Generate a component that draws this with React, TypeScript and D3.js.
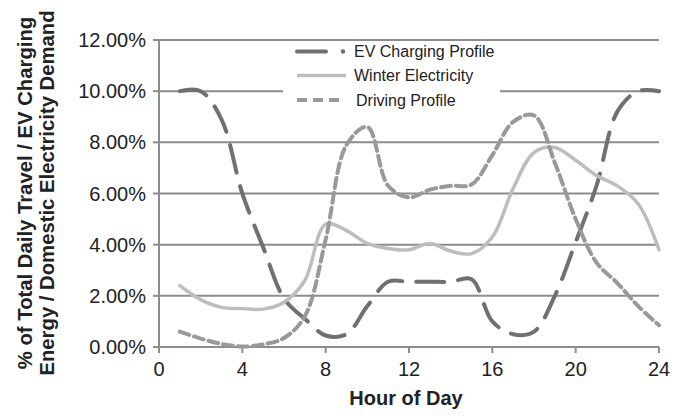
import React from "react";
import * as d3 from "d3";

const hours = [1, 2, 3, 4, 5, 6, 7, 8, 9, 10, 11, 12, 13, 14, 15, 16, 17, 18, 19, 20, 21, 22, 23, 24];
const evCharging = [10.0, 10.0, 8.9, 6.0, 3.9, 1.9, 1.1, 0.45, 0.5, 1.6, 2.55, 2.55, 2.55, 2.55, 2.65, 1.0, 0.5, 0.6, 2.0, 4.1, 6.3, 9.2, 10.0, 10.0];
const winterElec = [2.4, 1.85, 1.55, 1.5, 1.48, 1.75, 2.6, 4.8, 4.55, 4.05, 3.85, 3.8, 4.05, 3.75, 3.65, 4.3, 6.2, 7.6, 7.8, 7.3, 6.7, 6.3, 5.6, 3.8];
const drivingProfile = [0.6, 0.33, 0.12, 0.02, 0.1, 0.35, 1.2, 4.2, 7.9, 8.6, 6.3, 5.85, 6.15, 6.3, 6.35, 7.5, 8.8, 9.05, 7.2, 5.0, 3.3, 2.5, 1.6, 0.85];
const xTicks = [0, 4, 8, 12, 16, 20, 24];
const yTicks = [0, 2, 4, 6, 8, 10, 12];
const seriesNames = ["EV Charging Profile", "Winter Electricity", "Driving Profile"];

const FONT = "'Liberation Sans', Arial, Helvetica, sans-serif";
const GRID = "#8c8c8c";
const C_EV = "#707070";
const C_WIN = "#bdbdbd";
const C_DRV = "#999999";

export default function App() {
  const x = d3.scaleLinear().domain([0, 24]).range([159, 659]);
  const y = d3.scaleLinear().domain([0, 12]).range([347, 40]);

  const line = (vals: number[]) =>
    d3
      .line<number>()
      .x((_, i) => x(hours[i]))
      .y((v) => y(v))
      .curve(d3.curveCatmullRom.alpha(0.5))(vals) as string;

  const series = [
    { name: seriesNames[0], vals: evCharging, color: C_EV, width: 4, dash: "28 14" },
    { name: seriesNames[1], vals: winterElec, color: C_WIN, width: 3.5, dash: undefined },
    { name: seriesNames[2], vals: drivingProfile, color: C_DRV, width: 4, dash: "10 5" },
  ];

  return (
    <svg
      width={683}
      height={416}
      style={{ position: "absolute", left: 0, top: 0, background: "#fff" }}
      fontFamily={FONT}
    >
      <rect x={0} y={0} width={683} height={416} fill="#fff" />
      {yTicks.map((t) => (
        <line key={"g" + t} x1={x(0)} x2={x(24)} y1={y(t)} y2={y(t)} stroke={GRID} strokeWidth={2} />
      ))}
      <line x1={x(0)} x2={x(0)} y1={y(12)} y2={y(0)} stroke={GRID} strokeWidth={2} />
      {yTicks.map((t) => (
        <g key={"yt" + t}>
          <line x1={x(0) - 6} x2={x(0)} y1={y(t)} y2={y(t)} stroke={GRID} strokeWidth={2} />
          <text x={146} y={y(t) + 7} textAnchor="end" fontSize={20} fill="#222">
            {t.toFixed(2) + "%"}
          </text>
        </g>
      ))}
      {xTicks.map((t) => (
        <g key={"xt" + t}>
          <line x1={x(t)} x2={x(t)} y1={y(0)} y2={y(0) + 6} stroke={GRID} strokeWidth={2} />
          <text x={x(t)} y={376} textAnchor="middle" fontSize={20} fill="#222">
            {t}
          </text>
        </g>
      ))}
      <text x={406} y={405} textAnchor="middle" fontSize={20} fontWeight="bold" fill="#222">
        Hour of Day
      </text>
      <g transform="translate(32,193) rotate(-90)">
        <text x={0} y={0} textAnchor="middle" fontSize={20.3} fontWeight="bold" fill="#222">
          % of Total Daily Travel / EV Charging
        </text>
      </g>
      <g transform="translate(54,193) rotate(-90)">
        <text x={0} y={0} textAnchor="middle" fontSize={20.3} fontWeight="bold" fill="#222">
          Energy / Domestic Electricity Demand
        </text>
      </g>
      <rect x={283} y={43} width={217} height={72} fill="#fff" />
      {series.map((s) => (
        <path
          key={s.name}
          d={line(s.vals)}
          fill="none"
          stroke={s.color}
          strokeWidth={s.width}
          strokeDasharray={s.dash}
          strokeLinecap="round"
        />
      ))}
      <g>
        <line x1={297} x2={326} y1={51.5} y2={51.5} stroke={C_EV} strokeWidth={4} strokeLinecap="round" />
        <circle cx={343} cy={51.5} r={2.2} fill={C_EV} />
        <text x={354} y={57} fontSize={16} fill="#222">{seriesNames[0]}</text>
        <line x1={297} x2={346} y1={75.5} y2={75.5} stroke={C_WIN} strokeWidth={3.5} />
        <text x={354} y={81} fontSize={16} fill="#222">{seriesNames[1]}</text>
        <line x1={297} x2={341} y1={100} y2={100} stroke={C_DRV} strokeWidth={4} strokeDasharray="10 6" />
        <text x={356} y={105.5} fontSize={16} fill="#222">{seriesNames[2]}</text>
      </g>
    </svg>
  );
}
